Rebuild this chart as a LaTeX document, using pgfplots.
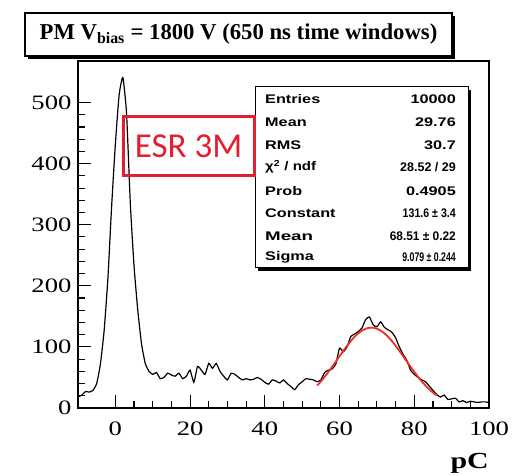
\documentclass[border=0pt]{standalone}
\usepackage{pgfplots}
\pgfplotsset{compat=1.18}
\usepackage{fontspec}
\usepackage{graphicx}
\setmainfont{Liberation Serif}
\newfontfamily\helv{Liberation Sans}
\newfontfamily\esrfont{Carlito}
\definecolor{fitred}{RGB}{236,48,36}
\definecolor{esrred}{RGB}{226,30,48}
\newcommand\sx[2]{\scalebox{#1}[1]{#2}}

\begin{document}
\begin{tikzpicture}[x=1pt,y=1pt]
\useasboundingbox (0,0) rectangle (522,476);
\begin{axis}[
    at={(78pt,68pt)}, anchor=south west,
    scale only axis, width=411pt, height=347pt,
    xmin=-10, xmax=100, ymin=0, ymax=568,
    xtick={0,20,...,100}, minor x tick num=3,
    ytick={0,100,...,500}, minor y tick num=4,
    tick pos=left, tick align=inside,
    major tick length=13pt, minor tick length=7pt,
    every tick/.style={black, line width=1.1pt},
    axis line style={line width=1.6pt},
    xticklabel={\sx{1.3}{\pgfmathprintnumber[assume math mode=true]{\tick}}},
    yticklabel={\sx{1.3}{\pgfmathprintnumber[assume math mode=true]{\tick}}},
    xticklabel style={font=\fontsize{20.5}{21}\selectfont, yshift=-10pt},
    yticklabel style={font=\fontsize{20.5}{21}\selectfont, xshift=-3pt},
]
% histogram, 1 pC bins
\addplot[black, line width=1.2pt, smooth, tension=0.3] table {
x y
-10 18
-9 21
-8 27
-7 26
-6 29
-5 40
-4 72
-3 127
-2 212
-1 330
0 432
1 512
2 541
3 482
4 335
5 232
6 160
7 105
8 73
9 60
10 55
11 58
12 48
13 50
14 57
15 54
16 52
17 57
18 48
19 52
20 62
21 42
22 68
23 62
24 55
25 73
26 65
27 73
28 60
29 52
30 46
31 57
32 55
33 50
34 46
35 48
36 46
37 47
38 50
39 47
40 42
41 39
42 46
43 44
44 41
45 46
46 40
47 35
48 30
49 38
50 43
51 48
52 47
53 46
54 43
55 46
56 58
57 62
58 64
59 72
60 98
61 92
62 100
63 117
64 121
65 125
66 131
67 145
68 149
69 136
70 133
71 141
72 132
73 128
74 124
75 115
76 100
77 88
78 78
79 62
80 55
81 50
82 46
83 43
84 36
85 29
86 22
87 18
88 21
89 14
90 15
91 16
92 10
93 12
94 9
95 11
96 10
97 9
98 10
99 10
100 9
};
% gaussian fit, 54-86 pC
\addplot[fitred, line width=1.8pt, smooth] table {
x y
54 36.7
55 43.5
56 50.9
57 58.9
58 67.3
59 76.0
60 84.8
61 93.5
62 101.7
63 109.5
64 116.4
65 122.1
66 126.7
67 129.8
68 131.4
69 131.4
70 129.8
71 126.7
72 122.2
73 116.5
74 109.6
75 101.9
76 93.6
77 85.0
78 76.2
79 67.5
80 59.1
81 51.1
82 43.6
83 36.8
84 30.7
85 25.3
86 20.6
};
\end{axis}

% title box
\fill[black] (28,417) rectangle (455,460);
\draw[line width=1.2pt, fill=white] (25,420) rectangle (452,463);
\node at (238.5,441.5) {\bfseries\fontsize{22.7}{24}\selectfont PM V\textsubscript{bias} = 1800 V (650 ns time windows)};

% stats box
\fill[black] (258,205) rectangle (471,386);
\draw[line width=1pt, fill=white] (255,208) rectangle (468,389);
\begin{scope}[every node/.style={inner sep=0, font=\helv\bfseries\fontsize{12.5}{13}\selectfont}]
\node[anchor=west] at (265,377) {\sx{1.3}{Entries}};
\node[anchor=east] at (456,377) {\sx{1.3}{10000}};
\node[anchor=west] at (265,354) {\sx{1.3}{Mean}};
\node[anchor=east] at (456,354) {\sx{1.3}{29.76}};
\node[anchor=west] at (265,331) {\sx{1.3}{RMS}};
\node[anchor=east] at (456,331) {\sx{1.3}{30.7}};
\node[anchor=west] at (265,309) {\sx{1.2}{χ\textsuperscript{2} / ndf}};
\node[anchor=east] at (456,309) {\sx{1.0}{28.52 / 29}};
\node[anchor=west] at (265,285) {\sx{1.3}{Prob}};
\node[anchor=east] at (456,285) {\sx{1.3}{0.4905}};
\node[anchor=west] at (265,263) {\sx{1.3}{Constant}};
\node[anchor=east] at (456,263) {\sx{0.85}{131.6 ± 3.4}};
\node[anchor=west] at (265,240) {\sx{1.5}{Mean}};
\node[anchor=east] at (456,240) {\sx{0.95}{68.51 ± 0.22}};
\node[anchor=west] at (265,219) {\sx{1.3}{Sigma}};
\node[anchor=east] at (456,219) {\sx{0.7}{9.079 ± 0.244}};
\end{scope}

% ESR label
\draw[esrred, line width=3pt] (123,300) rectangle (254,359);
\node[text=esrred] at (188.5,329.5) {\esrfont\fontsize{35}{36}\selectfont ESR 3M};

% axis title
\node[anchor=base east, inner sep=0] at (489,7) {\sx{1.3}{\bfseries\fontsize{23}{23}\selectfont pC}};
\end{tikzpicture}
\end{document}
